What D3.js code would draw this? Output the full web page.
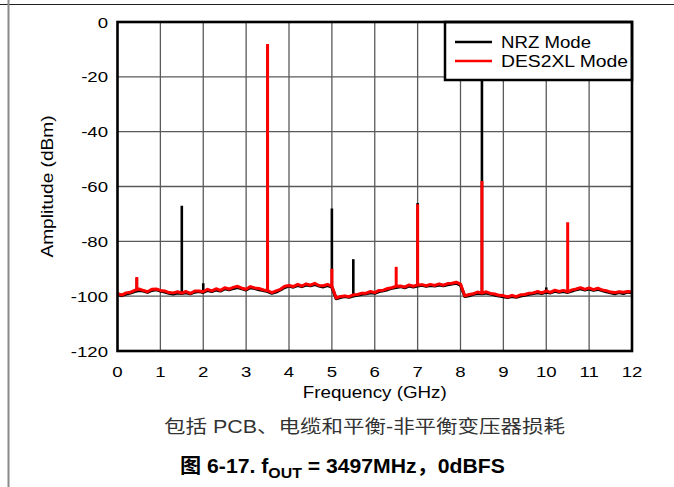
<!DOCTYPE html>
<html><head><meta charset="utf-8">
<script src="https://cdn.jsdelivr.net/npm/d3@7"></script>
<style>html,body{margin:0;padding:0;background:#fff;}svg{display:block;}</style>
</head><body>
<svg id="c" width="674" height="487"></svg>
<script>
// ---------- data ----------
const freqStep = 0.1; // GHz between floor samples (0 .. 12 GHz)
const xTicks = [0,1,2,3,4,5,6,7,8,9,10,11,12];
const yTicks = [0,-20,-40,-60,-80,-100,-120];
const seriesNames = ["NRZ Mode","DES2XL Mode"];

// noise floor, DES2XL mode (dBm), one value per 0.1 GHz
const desFloor = [
 -99.0,-99.6,-98.8,-98.6,-97.9,-97.4,-97.9,-98.4,-97.5,-97.4,
 -97.9,-98.1,-98.7,-98.8,-98.4,-98.9,-98.3,-99.0,-98.1,-98.1,
 -98.4,-97.5,-98.1,-97.3,-97.9,-96.9,-97.4,-96.8,-96.4,-97.1,
 -97.5,-96.5,-97.0,-97.2,-97.7,-98.0,-98.7,-98.1,-97.5,-96.4,
 -96.1,-96.5,-95.7,-96.3,-95.5,-96.0,-95.3,-96.1,-96.2,-95.7,
 -96.4,-100.7,-100.1,-99.9,-100.2,-99.5,-99.4,-98.9,-98.9,-98.3,
 -98.7,-97.9,-97.8,-97.2,-96.9,-96.4,-96.3,-96.7,-95.9,-96.4,
 -95.9,-95.8,-96.2,-95.7,-96.1,-95.5,-96.0,-95.4,-95.3,-94.9,
 -95.6,-99.9,-99.4,-99.1,-98.5,-98.9,-98.4,-99.0,-99.2,-99.7,
 -99.8,-100.3,-99.7,-100.2,-99.5,-99.4,-98.9,-98.8,-98.3,-98.8,
 -98.1,-98.6,-97.8,-98.3,-97.9,-98.4,-97.7,-97.4,-96.9,-97.5,
 -97.0,-97.6,-97.1,-97.7,-98.0,-98.5,-98.7,-98.4,-98.6,-98.3,
 -98.4
];
// noise floor, NRZ mode (dBm)
const nrzFloor = [
 -99.3,-99.8,-99.2,-98.8,-98.3,-97.9,-98.1,-98.6,-97.9,-97.6,
 -98.1,-98.5,-98.9,-99.2,-98.8,-99.0,-98.7,-99.1,-98.5,-98.3,
 -98.6,-97.9,-98.3,-97.7,-98.1,-97.3,-97.6,-97.2,-96.8,-97.3,
 -97.7,-96.9,-97.2,-97.6,-97.9,-98.3,-98.9,-98.5,-97.7,-96.8,
 -96.3,-96.7,-96.1,-96.5,-95.9,-96.2,-95.7,-96.3,-96.6,-96.1,
 -96.7,-100.9,-100.5,-100.1,-100.4,-99.9,-99.6,-99.3,-99.1,-98.7,
 -98.9,-98.3,-98.0,-97.6,-97.1,-96.8,-96.5,-96.9,-96.3,-96.6,
 -96.3,-96.0,-96.4,-96.1,-96.3,-95.9,-96.2,-95.8,-95.5,-95.3,
 -95.9,-100.1,-99.8,-99.3,-98.9,-99.1,-98.8,-99.2,-99.6,-99.9,
 -100.2,-100.5,-100.1,-100.4,-99.9,-99.6,-99.3,-99.0,-98.7,-99.0,
 -98.5,-98.8,-98.2,-98.5,-98.3,-98.6,-98.1,-97.6,-97.3,-97.7,
 -97.4,-97.8,-97.5,-97.9,-98.4,-98.7,-99.1,-98.6,-99.0,-98.5,
 -98.7
];
// spurs / tones: frequency (GHz) and peak (dBm)
const nrzSpurFreq = [0.45, 1.5, 2.0, 3.5, 5.0, 5.5, 7.0, 8.5, 10.0];
const nrzSpurPeak = [-93.5, -67, -95.3, -8.5, -68, -86.5, -66, -18, -96.8];
const desSpurFreq = [0.45, 3.5, 5.0, 6.5, 7.0, 8.5, 10.5];
const desSpurPeak = [-93, -8, -90, -89.3, -66.5, -58, -73];

// ---------- drawing ----------
const svg = d3.select("#c");
const W = {l:117.5, r:632, t:22, b:351};
const x = d3.scaleLinear().domain([0,12]).range([W.l, W.r]);
const y = d3.scaleLinear().domain([-120,0]).range([W.b, W.t]);
const FONT = "'Liberation Sans', Arial, Helvetica, sans-serif";

// page decorations
svg.append("line").attr("x1",0).attr("x2",674).attr("y1",4.5).attr("y2",4.5).attr("stroke","#222").attr("stroke-width",1);
svg.append("line").attr("x1",8.5).attr("x2",8.5).attr("y1",0).attr("y2",487).attr("stroke","#8a8a8a").attr("stroke-width",2);

// grid
const g = svg.append("g");
g.selectAll(".vg").data(xTicks.slice(1,-1)).join("line")
  .attr("x1",d=>x(d)).attr("x2",d=>x(d)).attr("y1",W.t).attr("y2",W.b)
  .attr("stroke","#5a5a5a").attr("stroke-width",1.3);
g.selectAll(".hg").data(yTicks.slice(1,-1)).join("line")
  .attr("x1",W.l).attr("x2",W.r).attr("y1",d=>y(d)).attr("y2",d=>y(d))
  .attr("stroke","#5a5a5a").attr("stroke-width",1.3);

svg.append("clipPath").attr("id","pc").append("rect")
  .attr("x",W.l).attr("y",W.t).attr("width",W.r-W.l).attr("height",W.b-W.t);
const plot = svg.append("g").attr("clip-path","url(#pc)");

const line = d3.line().x((d,i)=>x(i*freqStep)).y(d=>y(d));
function floorAt(arr,f){ return arr[Math.round(f/freqStep)]; }

function drawSeries(floor, fr, pk, color, sw, spw){
  plot.append("path").datum(floor).attr("d",line).attr("fill","none")
    .attr("stroke",color).attr("stroke-width",sw).attr("stroke-linejoin","round");
  plot.selectAll(null).data(fr).join("line")
    .attr("x1",d=>x(d)).attr("x2",d=>x(d))
    .attr("y1",d=>y(floorAt(floor,d))).attr("y2",(d,i)=>y(pk[i]))
    .attr("stroke",color).attr("stroke-width",spw);
}
drawSeries(nrzFloor, nrzSpurFreq, nrzSpurPeak, "#000", 3.2, 2.6);
drawSeries(desFloor, desSpurFreq, desSpurPeak, "#ff0000", 3, 3);

// legend
const lg = svg.append("g");
lg.append("rect").attr("x",445).attr("y",W.t).attr("width",W.r-445).attr("height",58)
  .attr("fill","#fff").attr("stroke","#000").attr("stroke-width",2.5);
const legColors = ["#000","#ff0000"], legY=[42,61], legLen=[90,127];
seriesNames.forEach((n,i)=>{
  lg.append("line").attr("x1",455).attr("x2",492).attr("y1",legY[i]).attr("y2",legY[i])
    .attr("stroke",legColors[i]).attr("stroke-width",2.5);
  lg.append("text").attr("x",501).attr("y",legY[i]+6).text(n)
    .attr("font-family",FONT).attr("font-size",16).attr("textLength",legLen[i])
    .attr("lengthAdjust","spacingAndGlyphs");
});

// frame
svg.append("rect").attr("x",W.l).attr("y",W.t).attr("width",W.r-W.l).attr("height",W.b-W.t)
  .attr("fill","none").attr("stroke","#000").attr("stroke-width",2.6);

// tick labels
svg.selectAll(".xt").data(xTicks).join("text")
  .attr("transform",d=>`translate(${x(d)},377) scale(1.2,1)`)
  .attr("text-anchor","middle").attr("font-family",FONT).attr("font-size",15.5)
  .text(d=>d);
svg.selectAll(".yt").data(yTicks).join("text")
  .attr("transform",d=>`translate(108,${y(d)+5.5}) scale(1.2,1)`)
  .attr("text-anchor","end").attr("font-family",FONT).attr("font-size",15.5)
  .text(d=>d);

// axis titles
svg.append("text").attr("x",(W.l+W.r)/2 - 72).attr("y",398).text("Frequency (GHz)")
  .attr("font-family",FONT).attr("font-size",16).attr("textLength",144).attr("lengthAdjust","spacingAndGlyphs");
svg.append("text").attr("transform",`translate(53,${(W.t+W.b)/2 + 71}) rotate(-90)`).text("Amplitude (dBm)")
  .attr("font-family",FONT).attr("font-size",16).attr("textLength",142).attr("lengthAdjust","spacingAndGlyphs");

// captions
svg.append("text").attr("x",164).attr("y",433).text("包括 PCB、电缆和平衡-非平衡变压器损耗")
  .attr("font-family","'Liberation Sans','Noto Sans CJK SC',sans-serif").attr("font-size",18).attr("fill","#333")
  .attr("textLength",401).attr("lengthAdjust","spacingAndGlyphs");
const cap = svg.append("text").attr("transform","translate(180,473) scale(1.06,1)")
  .attr("font-family","'Liberation Sans','Noto Sans CJK SC',sans-serif").attr("font-size",20).attr("font-weight","bold");
cap.append("tspan").text("图 6-17. f");
cap.append("tspan").attr("dy",5).attr("font-size",15).text("OUT");
cap.append("tspan").attr("dy",-5).text(" = 3497MHz，0dBFS");
</script>
</body></html>
